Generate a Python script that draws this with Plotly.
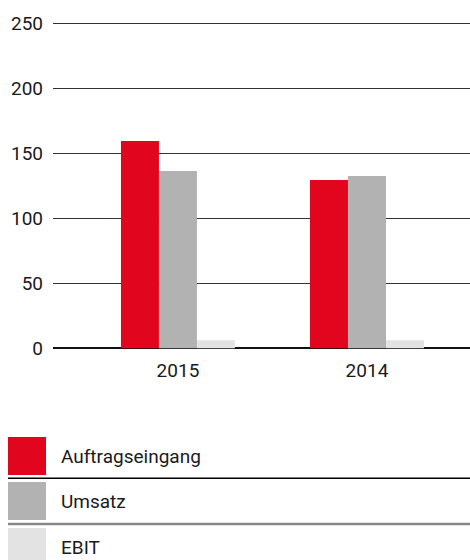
import plotly.graph_objects as go

# Data
years = ["2015", "2014"]
series_names = ["Auftragseingang", "Umsatz", "EBIT"]
auftragseingang = [159.5, 129.5]
umsatz = [136.4, 132.5]
ebit = [6.2, 6.2]
y_tickvals = [0, 50, 100, 150, 200, 250]

colors = ["#E2051E", "#B2B2B2", "#E3E3E3"]
OFF = 8  # page body margin
W, H = 470 - OFF, 560 - OFF
FONT = "Roboto"

fig = go.Figure()
for name, vals, col in zip(series_names, [auftragseingang, umsatz, ebit], colors):
    fig.add_trace(go.Bar(x=years, y=vals, name=name, marker=dict(color=col, line=dict(width=0)),
                         showlegend=False, hoverinfo="x+y+name"))

# plot area in paper pixels
px_left, px_right = 53 - OFF, W
py_top, py_bottom = 13 - OFF, 354.8 - OFF

fig.update_layout(
    width=W, height=H,
    margin=dict(l=0, r=0, t=0, b=0),
    paper_bgcolor="white", plot_bgcolor="white",
    barmode="group", bargap=0.397, bargroupgap=0,
    font=dict(family=FONT, size=19, color="#1a1a1a"),
    xaxis=dict(domain=[px_left / W, px_right / W], range=[-0.661, 1.545],
               showgrid=False, zeroline=False, showline=False, ticks="",
               ticklabelstandoff=2,
               tickfont=dict(size=19), automargin=False, fixedrange=True),
    yaxis=dict(domain=[1 - py_bottom / H, 1 - py_top / H], range=[-5, 258],
               tickvals=y_tickvals, showgrid=True, gridcolor="#333333", gridwidth=1,
               zeroline=True, zerolinecolor="#111111", zerolinewidth=2,
               showline=False, ticks="", ticklabelstandoff=9,
               tickfont=dict(size=19), automargin=False, fixedrange=True),
)

# custom legend (positions in screen pixels, converted to paper)
def py(y):
    return max(0.0, 1 - (y - OFF) / H)

sw_x0, sw_x1 = (8 - OFF) / W, (46 - OFF) / W
rows = [(437, 475), (482, 520), (528, 566)]
sep = [(478.3, "#000000", 1.5), (524, "#878787", 2.5)]
for (y0, y1), name, col in zip(rows, series_names, colors):
    fig.add_shape(type="rect", xref="paper", yref="paper", x0=sw_x0, x1=sw_x1,
                  y0=py(y1), y1=py(y0), fillcolor=col,
                  line=dict(width=0), layer="above")
    fig.add_annotation(xref="paper", yref="paper", x=(59 - OFF) / W,
                       y=1 - ((y0 + y1) / 2 - OFF) / H,
                       text=name, showarrow=False, xanchor="left", yanchor="middle",
                       font=dict(family=FONT, size=19, color="#1a1a1a"))
for yy, col, w in sep:
    fig.add_shape(type="line", xref="paper", yref="paper", x0=0, x1=1,
                  y0=py(yy), y1=py(yy), line=dict(color=col, width=w))

fig.write_html("out.html", config={"displayModeBar": False},
               post_script="document.documentElement.style.overflow='hidden';"
                           "document.body.style.marginRight='0px';")
